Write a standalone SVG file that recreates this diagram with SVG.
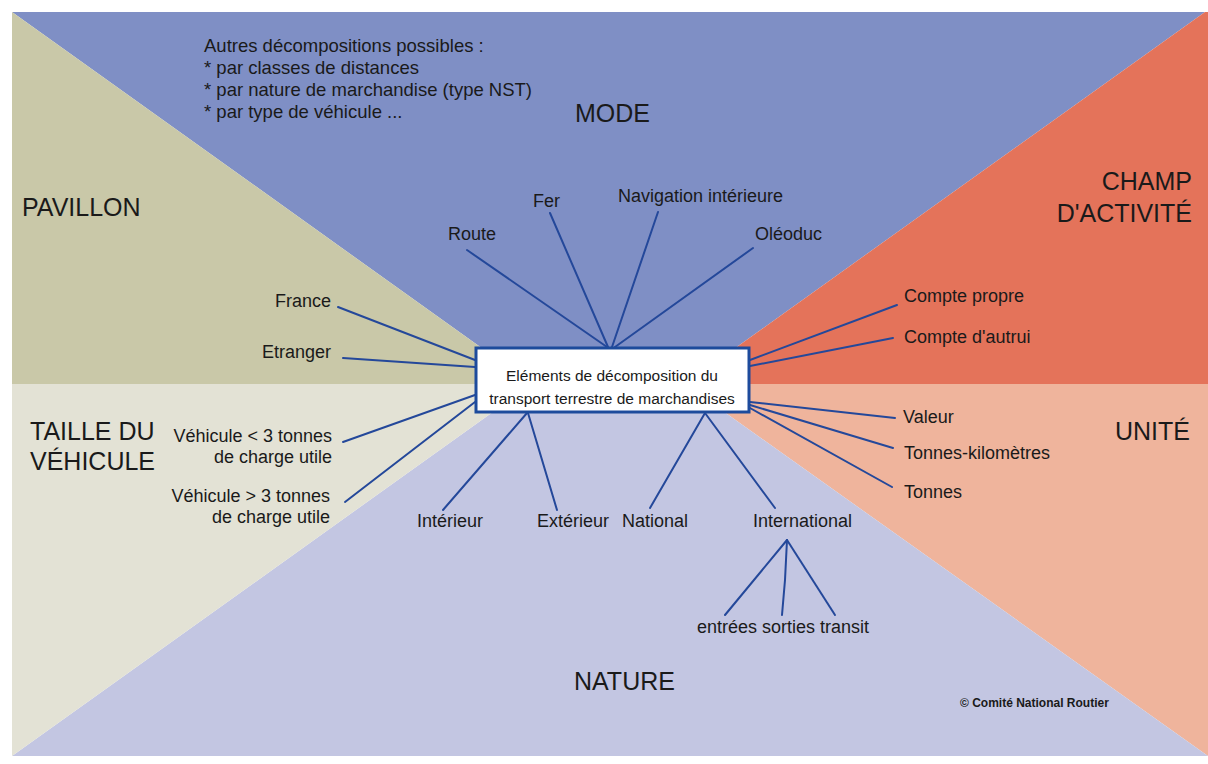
<svg xmlns="http://www.w3.org/2000/svg" width="1208" height="764" viewBox="0 0 1208 764">
<style>
text{font-family:"Liberation Sans",Arial,sans-serif;fill:#1a1a1a}
.lbl{font-size:18px}
.big{font-size:25px}
.note{font-size:18.5px}
.box-t{font-size:15.5px;text-anchor:middle}
.end{text-anchor:end}
.c line,.c polyline{stroke:#24489a;stroke-width:2;fill:none;stroke-linecap:round}
</style>
<rect width="1208" height="764" fill="#ffffff"/>
<g id="background">
<polygon points="12,12 1205,12 685,384 532,384" fill="#7f8fc5"/>
<polygon points="1205,12 1208,12 1208,384 685,384" fill="#e4735a"/>
<polygon points="685,384 1208,384 1208,756" fill="#efb49c"/>
<polygon points="12,756 1208,756 685,384 532,384" fill="#c3c6e2"/>
<polygon points="12,384 532,384 12,756" fill="#e3e2d5"/>
<polygon points="12,12 532,384 12,384" fill="#c9c8a8"/>
</g>
<g id="connectors" class="c">
<line x1="607" y1="347" x2="467" y2="250"/>
<line x1="608" y1="347" x2="550" y2="213"/>
<line x1="612" y1="347" x2="658" y2="212"/>
<line x1="615" y1="347" x2="753" y2="248"/>
<line x1="750" y1="360" x2="897" y2="305"/>
<line x1="750" y1="366" x2="893" y2="338"/>
<line x1="750" y1="402" x2="895" y2="418"/>
<line x1="750" y1="405" x2="893" y2="448"/>
<line x1="750" y1="408" x2="892" y2="487"/>
<line x1="475" y1="360" x2="338" y2="307"/>
<line x1="475" y1="367" x2="343" y2="358"/>
<line x1="475" y1="395" x2="343" y2="442"/>
<line x1="475" y1="402" x2="345" y2="502"/>
<line x1="527" y1="413" x2="443" y2="510"/>
<line x1="528" y1="413" x2="557" y2="510"/>
<line x1="705" y1="413" x2="650" y2="508"/>
<line x1="705" y1="413" x2="775" y2="508"/>
<line x1="787" y1="540" x2="725" y2="615"/>
<polyline points="787,540 785,580 782,615"/>
<line x1="787" y1="540" x2="835" y2="615"/>
</g>
<g id="note">
<text class="note" x="204" y="52">Autres décompositions possibles :</text>
<text class="note" x="204" y="74">* par classes de distances</text>
<text class="note" x="204" y="96">* par nature de marchandise (type NST)</text>
<text class="note" x="204" y="118">* par type de véhicule ...</text>
</g>
<g id="categories">
<text class="big" x="575" y="122">MODE</text>
<text class="big" x="22" y="216">PAVILLON</text>
<text class="big end" x="1192" y="190">CHAMP</text>
<text class="big end" x="1192" y="222">D'ACTIVITÉ</text>
<text class="big" x="30" y="440">TAILLE DU</text>
<text class="big" x="30" y="470">VÉHICULE</text>
<text class="big end" x="1190" y="440">UNITÉ</text>
<text class="big" x="574" y="690">NATURE</text>
</g>
<g id="center">
<rect x="476" y="348" width="273" height="64" fill="#ffffff" stroke="#1d4b9c" stroke-width="3"/>
<text class="box-t" x="612" y="381">Eléments de décomposition du</text>
<text class="box-t" x="612" y="404">transport terrestre de marchandises</text>
</g>
<g id="mode-items">
<text class="lbl" x="448" y="240">Route</text>
<text class="lbl" x="533" y="207">Fer</text>
<text class="lbl" x="618" y="202">Navigation intérieure</text>
<text class="lbl" x="755" y="240">Oléoduc</text>
</g>
<g id="pavillon-items">
<text class="lbl end" x="331" y="307">France</text>
<text class="lbl end" x="331" y="358">Etranger</text>
</g>
<g id="taille-items">
<text class="lbl end" x="332" y="442">Véhicule &lt; 3 tonnes</text>
<text class="lbl end" x="332" y="463">de charge utile</text>
<text class="lbl end" x="330" y="502">Véhicule &gt; 3 tonnes</text>
<text class="lbl end" x="330" y="523">de charge utile</text>
</g>
<g id="champ-items">
<text class="lbl" x="904" y="302">Compte propre</text>
<text class="lbl" x="904" y="343">Compte d'autrui</text>
</g>
<g id="unite-items">
<text class="lbl" x="903" y="423">Valeur</text>
<text class="lbl" x="904" y="459">Tonnes-kilomètres</text>
<text class="lbl" x="904" y="498">Tonnes</text>
</g>
<g id="nature-items">
<text class="lbl" x="417" y="527">Intérieur</text>
<text class="lbl" x="537" y="527">Extérieur</text>
<text class="lbl" x="622" y="527">National</text>
<text class="lbl" x="753" y="527">International</text>
<text class="lbl" x="697" y="633">entrées sorties transit</text>
</g>
<g id="credit">
<text x="960" y="707" font-size="12" font-weight="bold">© Comité National Routier</text>
</g>
</svg>
